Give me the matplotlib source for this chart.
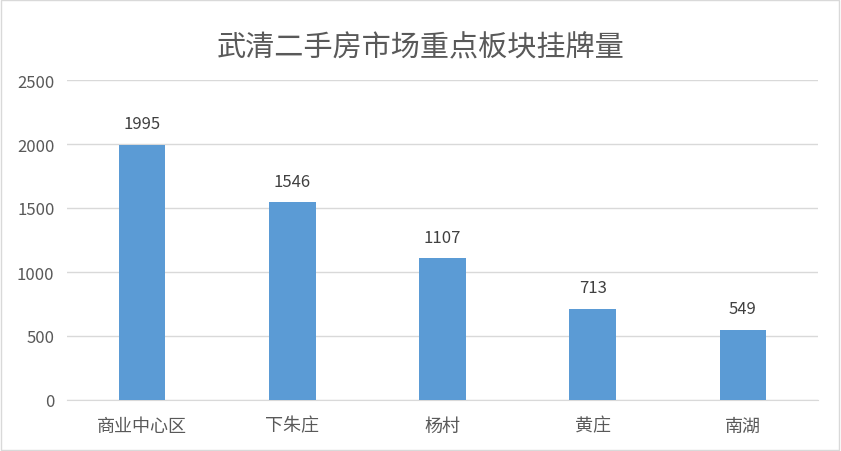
import matplotlib.pyplot as plt
from matplotlib.patches import Rectangle

plt.rcParams['font.family'] = ['Noto Sans CJK SC', 'DejaVu Sans']

# data
areas = ['商业中心区', '下朱庄', '杨村', '黄庄', '南湖']
listings = [1995, 1546, 1107, 713, 549]
yticks = [0, 500, 1000, 1500, 2000, 2500]
title = '武清二手房市场重点板块挂牌量'

fig = plt.figure(figsize=(8.41, 4.52), dpi=100)
ax = fig.add_axes([67 / 841, 1 - 401 / 452, 751 / 841, 320 / 452])

x = range(len(areas))
bars = ax.bar(x, listings, width=0.31, color='#5B9BD5', zorder=3)

for xi, v in zip(x, listings):
    ax.annotate(str(v), (xi, v), xytext=(0, 9), textcoords='offset points',
                ha='center', va='bottom', fontsize=12, color='#404040')

ax.set_xlim(-0.5, len(areas) - 0.5)
ax.set_ylim(0, 2500)
ax.set_yticks(yticks)
ax.set_xticks(list(x))
ax.set_xticklabels(areas, fontsize=13)
ax.tick_params(axis='both', length=0, labelcolor='#595959')
ax.tick_params(axis='y', labelsize=12, pad=9)
ax.tick_params(axis='x', pad=12)
ax.grid(axis='y', color='#D9D9D9', linewidth=1, zorder=0)
for s in ['top', 'right', 'left']:
    ax.spines[s].set_visible(False)
ax.spines['bottom'].set_color('#D9D9D9')

fig.text(0.5, 1 - 47 / 452, title, ha='center', va='center', fontsize=21, color='#595959')

# outer chart border
fig.patches.append(Rectangle((0.001, 0.002), 0.997, 0.995, transform=fig.transFigure,
                             fill=False, edgecolor='#D9D9D9', linewidth=1))

fig.savefig('out.png', dpi=100)
